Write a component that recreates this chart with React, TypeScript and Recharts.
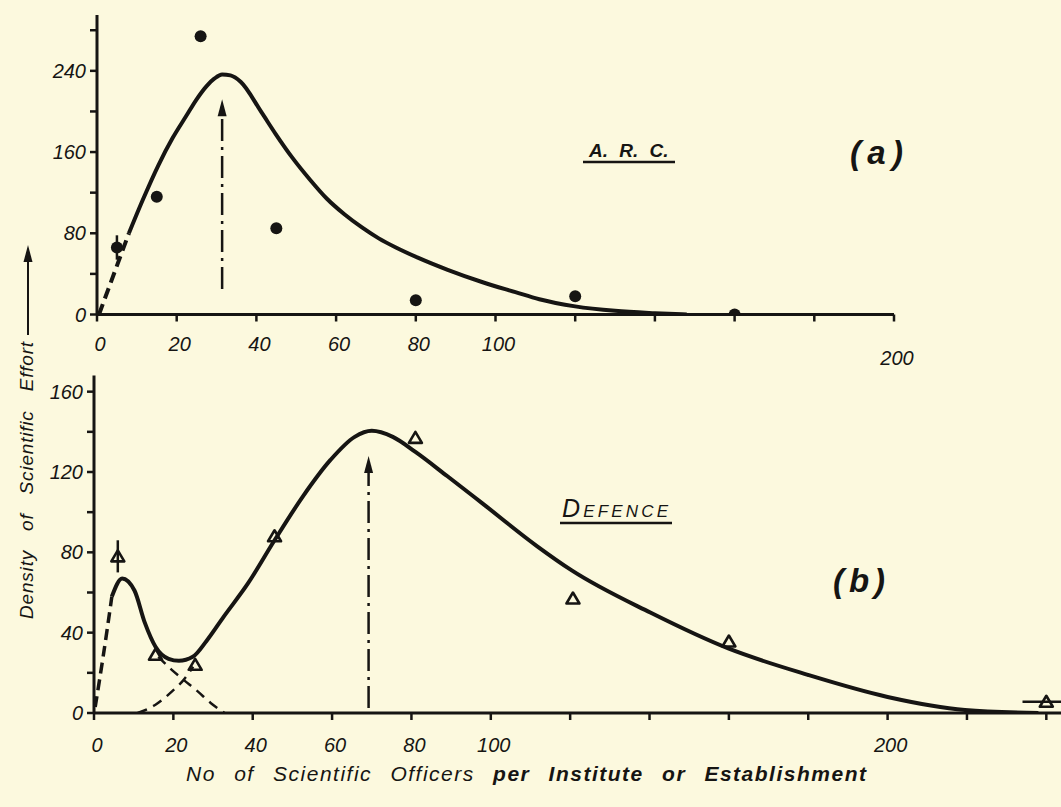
import React from 'react';
import {
  ComposedChart,
  Line,
  Scatter,
  XAxis,
  YAxis,
  ErrorBar,
  ReferenceLine,
  ReferenceDot,
} from 'recharts';

const INK = '#161513';
const PAPER = '#fcf9de';
const FONT = "'Liberation Sans', Arial, sans-serif";

// (a) A.R.C. – observed points
const arcObsX = [5, 15, 26, 45, 80, 120, 160];
const arcObsY = [66, 116, 274, 85, 14, 18, 0];
const arcObsErr = [12, 0, 0, 0, 0, 0, 0];
// (a) fitted curve
const arcFitX = [8, 11.5, 15.4, 19, 22.3, 25, 27.5, 29.5, 31.4, 33.5, 36.1, 41.3, 44.8, 49.1, 53.4, 57.7, 62, 66.4, 70.7, 75, 80.5, 88, 96.6, 105, 111, 120, 130, 140, 148];
const arcFitY = [80, 113, 147, 174, 195, 212, 225, 232.5, 236.5, 235.5, 229, 199, 178, 154, 133, 114, 99, 86, 75, 66, 56, 44, 32, 22, 15, 8, 3.6, 1.3, 0];
const arcLeadX = [0.5, 8];
const arcLeadY = [0, 80];
// (a) mode arrow
const arcModeX = 31.4;
const arcModeFrom = 25;
const arcModeTo = 212;

// (b) Defence – observed points
const defObsX = [6, 15.5, 25.5, 45.5, 81, 120.7, 160, 240];
const defObsY = [78, 29, 24, 88, 137, 57, 35.6, 5.6];
const defObsErrY = [8, 0, 0, 0, 0, 0, 0, 0];
const defObsErrX = [0, 0, 0, 0, 0, 0, 0, 6];
// (b) fitted curve
const defFitX = [4.5, 7.1, 10.2, 12.8, 15.5, 18.8, 21.4, 24.9, 28.4, 32.7, 38.8, 45.5, 52.7, 59.6, 65.7, 70, 75.3, 81, 89, 97.8, 111.7, 120.4, 140.2, 160, 179.9, 200, 219.5, 238];
const defFitY = [58, 67, 61, 45, 33, 27, 26, 28, 36, 48, 64.5, 86, 108, 126, 137.5, 140.5, 137.5, 130, 118, 104.5, 83, 71, 50, 32, 19, 8, 1.5, 0];
const defLeadX = [0.3, 2.3, 4.5];
const defLeadY = [3, 28, 58];
// (b) the two component curves (dashed)
const defCompAX = [16.2, 19.6, 22.6, 26, 29.4, 32.9];
const defCompAY = [28, 21.5, 16.5, 11, 5, 0];
const defCompBX = [11, 15.4, 19.8, 22.6, 25];
const defCompBY = [0, 4, 11, 16.5, 23];
// (b) mode arrow
const defModeX = 69.2;
const defModeFrom = 2.5;
const defModeTo = 128;

// axis ticks
const arcTicksX = [0, 20, 40, 60, 80, 100, 120, 140, 160, 180, 200];
const arcTicksY = [0, 40, 80, 120, 160, 200, 240, 280];
const defTicksX = [0, 20, 40, 60, 80, 100, 120, 140, 160, 180, 200, 220, 240];
const defTicksY = [0, 20, 40, 60, 80, 100, 120, 140, 160];

const pts = (xs: number[], ys: number[]) => xs.map((x, i) => ({ x, y: ys[i] }));

const arcObs = arcObsX.map((x, i) => ({ x, y: arcObsY[i], err: arcObsErr[i] }));
const defObs = defObsX.map((x, i) => ({ x, y: defObsY[i], errY: defObsErrY[i], errX: defObsErrX[i] }));

const axisLine = { stroke: INK, strokeWidth: 3 };
const tickLine = { stroke: INK, strokeWidth: 2.5 };
const modeDash = '22 6 3 6';

function XTick(props: any) {
  const { x, y, payload, dy, drop } = props;
  const v = payload.value;
  if (!(v <= 100 || v === 200)) return null;
  return (
    <text
      x={x + 3}
      y={y + dy + (drop && v === 200 ? 14 : 0)}
      textAnchor="middle"
      fontStyle="italic"
      fontSize={20}
      fontFamily={FONT}
      fill={INK}
    >
      {v}
    </text>
  );
}

function YTick(props: any) {
  const { x, y, payload, step, max } = props;
  const v = payload.value;
  if (v % step !== 0 || v > max) return null;
  return (
    <text x={x - 2} y={y + 7} textAnchor="end" fontStyle="italic" fontSize={20} fontFamily={FONT} fill={INK}>
      {v}
    </text>
  );
}

const dotShape = (p: any) => <circle cx={p.cx} cy={p.cy} r={6} fill={INK} />;

const triShape = (p: any) => (
  <path
    d={`M${p.cx},${p.cy - 6} L${p.cx + 6.5},${p.cy + 5} L${p.cx - 6.5},${p.cy + 5} Z`}
    fill="none"
    stroke={INK}
    strokeWidth={2.6}
    strokeLinejoin="round"
  />
);

const arrowHead = (p: any) => (
  <path d={`M${p.cx},${p.cy} L${p.cx - 4.5},${p.cy + 17} L${p.cx + 4.5},${p.cy + 17} Z`} fill={INK} />
);

export default function App() {
  return (
    <div
      style={{
        position: 'absolute',
        left: 0,
        top: 0,
        width: 1061,
        height: 807,
        background: PAPER,
        overflow: 'hidden',
      }}
    >
      {/* (a) A.R.C. */}
      <div style={{ position: 'absolute', left: 0, top: 0 }}>
        <ComposedChart width={1061} height={375} margin={{ top: 15, right: 167, bottom: 0, left: 0 }}>
          <XAxis
            type="number"
            dataKey="x"
            domain={[0, 200]}
            ticks={arcTicksX}
            height={60.5}
            axisLine={axisLine}
            tickLine={tickLine}
            tickSize={7}
            tick={(p: any) => <XTick {...p} dy={27} drop />}
            allowDataOverflow
          />
          <YAxis
            type="number"
            domain={[0, 295]}
            ticks={arcTicksY}
            width={97}
            axisLine={axisLine}
            tickLine={tickLine}
            tickSize={7}
            tick={(p: any) => <YTick {...p} step={80} max={240} />}
            allowDataOverflow
          />
          <Line data={pts(arcLeadX, arcLeadY)} dataKey="y" type="linear" stroke={INK} strokeWidth={4} strokeDasharray="11 6" dot={false} isAnimationActive={false} />
          <Line data={pts(arcFitX, arcFitY)} dataKey="y" type="monotone" stroke={INK} strokeWidth={4} dot={false} isAnimationActive={false} />
          <ReferenceLine
            segment={[{ x: arcModeX, y: arcModeFrom }, { x: arcModeX, y: arcModeTo - 15 }]}
            stroke={INK}
            strokeWidth={2.5}
            strokeDasharray={modeDash}
          />
          <ReferenceDot x={arcModeX} y={arcModeTo} r={4} shape={arrowHead} />
          <Scatter data={arcObs} dataKey="y" shape={dotShape} isAnimationActive={false}>
            <ErrorBar dataKey="err" direction="y" width={0} stroke={INK} strokeWidth={2.5} />
          </Scatter>
        </ComposedChart>
      </div>

      {/* (b) Defence */}
      <div style={{ position: 'absolute', left: 0, top: 360 }}>
        <ComposedChart width={1061} height={447} margin={{ top: 15.6, right: 0, bottom: 0, left: 0 }}>
          <XAxis
            type="number"
            dataKey="x"
            domain={[0, 243.7]}
            ticks={defTicksX}
            height={94}
            axisLine={axisLine}
            tickLine={tickLine}
            tickSize={7}
            tick={(p: any) => <XTick {...p} dy={30} />}
            allowDataOverflow
          />
          <YAxis
            type="number"
            domain={[0, 168]}
            ticks={defTicksY}
            width={94}
            axisLine={axisLine}
            tickLine={tickLine}
            tickSize={7}
            tick={(p: any) => <YTick {...p} step={40} max={160} />}
            allowDataOverflow
          />
          <Line data={pts(defLeadX, defLeadY)} dataKey="y" type="monotone" stroke={INK} strokeWidth={3.5} strokeDasharray="11 6" dot={false} isAnimationActive={false} />
          <Line data={pts(defCompAX, defCompAY)} dataKey="y" type="monotone" stroke={INK} strokeWidth={2.5} strokeDasharray="10 7" dot={false} isAnimationActive={false} />
          <Line data={pts(defCompBX, defCompBY)} dataKey="y" type="monotone" stroke={INK} strokeWidth={2.5} strokeDasharray="10 7" dot={false} isAnimationActive={false} />
          <Line data={pts(defFitX, defFitY)} dataKey="y" type="monotone" stroke={INK} strokeWidth={4} dot={false} isAnimationActive={false} />
          <ReferenceLine
            segment={[{ x: defModeX, y: defModeFrom }, { x: defModeX, y: defModeTo - 7.5 }]}
            stroke={INK}
            strokeWidth={2.5}
            strokeDasharray={modeDash}
          />
          <ReferenceDot x={defModeX} y={defModeTo} r={4} shape={arrowHead} />
          <Scatter data={defObs} dataKey="y" shape={triShape} isAnimationActive={false}>
            <ErrorBar dataKey="errY" direction="y" width={0} stroke={INK} strokeWidth={2.5} />
            <ErrorBar dataKey="errX" direction="x" width={0} stroke={INK} strokeWidth={2.5} />
          </Scatter>
        </ComposedChart>
      </div>

      {/* annotations */}
      <svg width={1061} height={807} style={{ position: 'absolute', left: 0, top: 0, pointerEvents: 'none' }}>
        <g fontFamily={FONT} fontStyle="italic" fill={INK}>
          <text x={589} y={157} fontSize={19} fontWeight={600} style={{ wordSpacing: '6px' }}>
            A. R. C.
          </text>
          <line x1={583} y1={162} x2={675} y2={162} stroke={INK} strokeWidth={2.5} />
          <text x={850} y={164} fontSize={33} fontWeight={700} textLength={53} lengthAdjust="spacing">
            (a)
          </text>

          <text x={562} y={517} fontWeight={500} textLength={106} lengthAdjust="spacing">
            <tspan fontSize={25}>D</tspan>
            <tspan fontSize={17}>EFENCE</tspan>
          </text>
          <line x1={560} y1={523} x2={672} y2={523} stroke={INK} strokeWidth={2.5} />
          <text x={833} y={592} fontSize={33} fontWeight={700} textLength={52} lengthAdjust="spacing">
            (b)
          </text>

          <text
            transform="translate(33,480) rotate(-90)"
            textAnchor="middle"
            fontSize={19}
            style={{ wordSpacing: '13px', letterSpacing: '0.8px' }}
          >
            Density of Scientific Effort
          </text>
          <line x1={28} y1={335} x2={28} y2={258} stroke={INK} strokeWidth={2} />
          <path d="M28,245 L23.5,262 L32.5,262 Z" fill={INK} />

          <text x={186} y={781} fontSize={21} style={{ wordSpacing: '11px', letterSpacing: '1.5px' }}>
            <tspan>No of Scientific Officers </tspan>
            <tspan fontWeight={700}>per Institute or Establishment</tspan>
          </text>
        </g>
      </svg>
    </div>
  );
}
